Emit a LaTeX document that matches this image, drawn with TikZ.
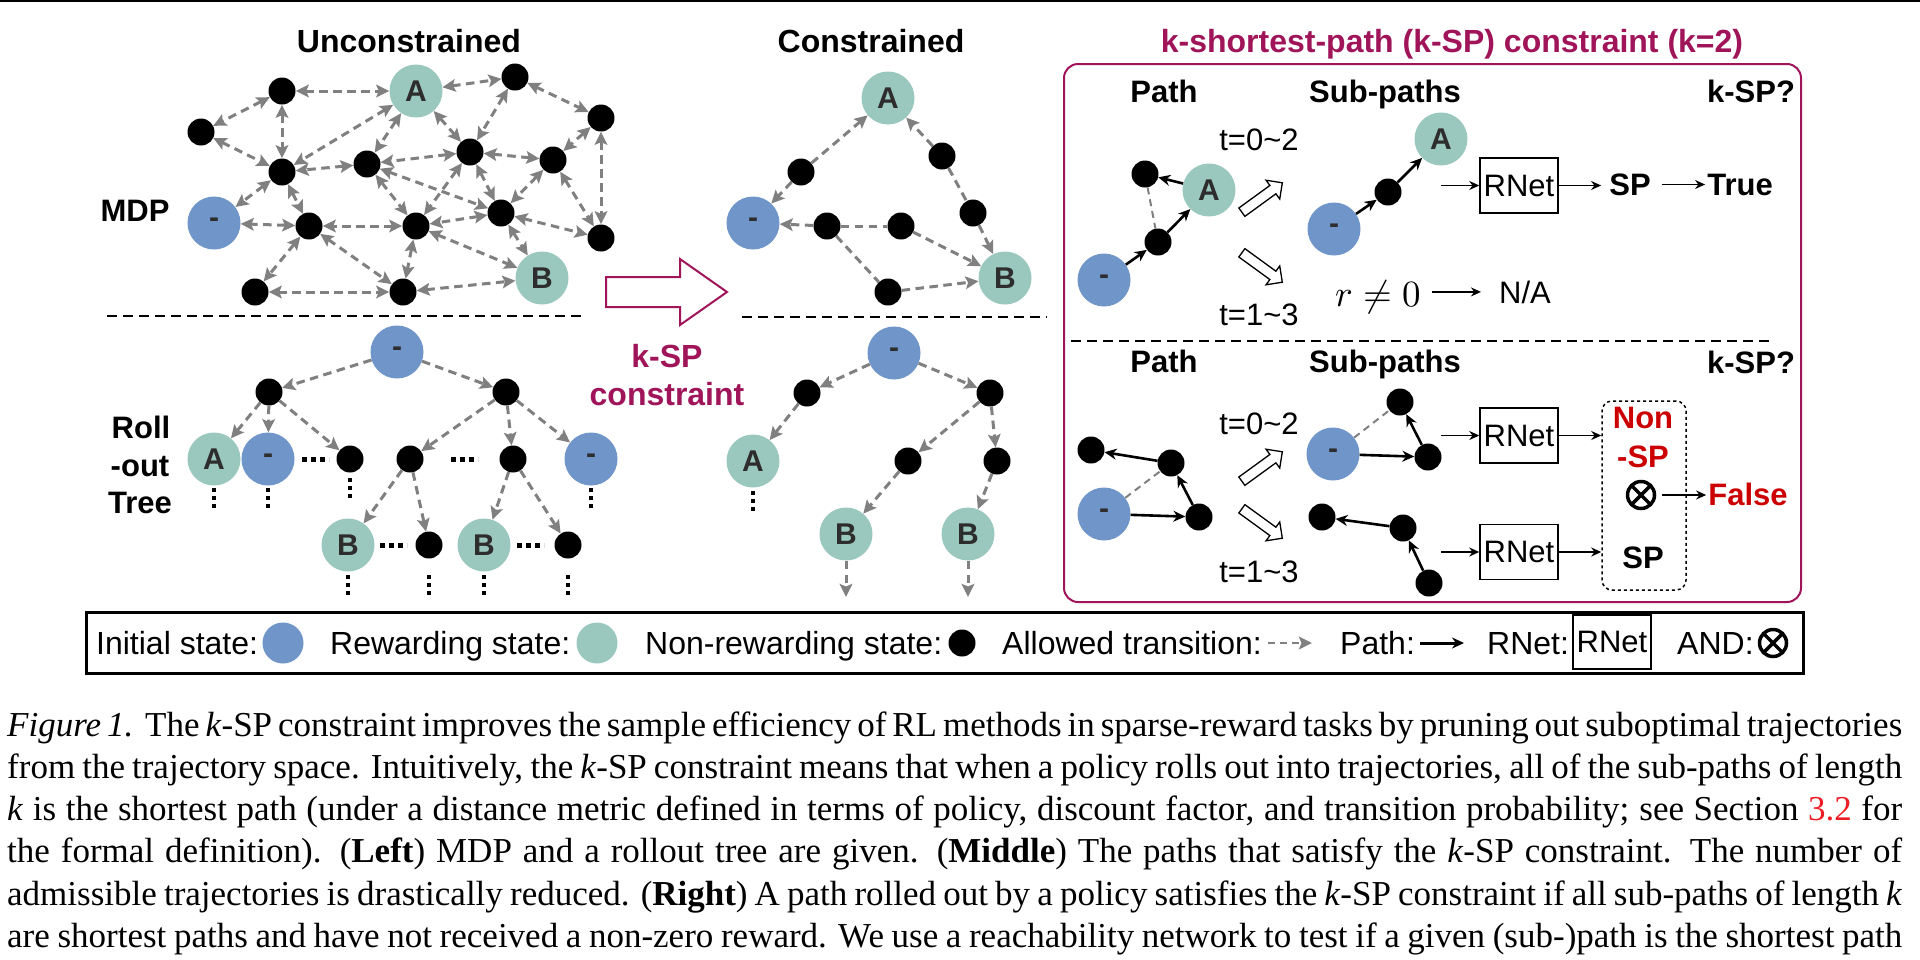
\documentclass[tikz,border=0pt]{standalone}
\usepackage{fontspec}
\setmainfont{Liberation Serif}
\newfontfamily\arialfont{Liberation Sans}
\usetikzlibrary{arrows.meta,shapes.arrows}
\definecolor{iniC}{RGB}{112,149,201}
\definecolor{rewC}{RGB}{155,200,190}
\definecolor{edgeC}{RGB}{128,128,128}
\definecolor{kspC}{RGB}{160,20,90}
\definecolor{redC}{RGB}{204,0,0}
\definecolor{labC}{RGB}{45,45,45}
\definecolor{linkC}{RGB}{237,28,36}
\newcommand{\mysf}[1]{\arialfont\fontsize{#1}{#1}\selectfont}
\newcommand{\capfont}{\fontsize{35}{42}\selectfont}
\tikzset{
  gtip/.tip={Stealth[length=13pt,width=12.5pt,inset=2.5pt]},
  btip/.tip={Stealth[length=12pt,width=11pt]},
  ttip/.tip={Stealth[length=10pt,width=9pt]},
  ini/.style={circle, fill=iniC, minimum size=53pt, inner sep=0pt, font=\mysf{30}\bfseries, text=labC},
  rew/.style={ini, fill=rewC},
  nr/.style={circle, fill=black, minimum size=27pt, inner sep=0pt},
  trans/.style={draw=edgeC, line width=3pt, dash pattern=on 8.5pt off 5.5pt},
  both/.style={trans, gtip-gtip},
  one/.style={trans, -gtip},
  pth/.style={draw=black, line width=2.6pt, -btip},
  thinarr/.style={draw=black, line width=1.6pt, -ttip},
  thindash/.style={draw=edgeC, line width=2pt, dash pattern=on 7pt off 5pt},
  vdots/.style={draw=black, line width=4pt, dash pattern=on 4pt off 4pt},
  hdots/.style={draw=black, line width=5pt, dash pattern=on 5pt off 4pt},
  sepline/.style={draw=black, line width=2.5pt, dash pattern=on 10pt off 6pt},
  ttl/.style={font=\mysf{32}\bfseries, anchor=base, inner sep=0pt},
  txt/.style={font=\mysf{31}, anchor=base, inner sep=2pt},
  btxt/.style={font=\mysf{31}\bfseries, anchor=base, inner sep=2pt},
  lg/.style={font=\mysf{32}, anchor=base west, inner sep=0pt},
  rnet/.style={draw=black, line width=1.5pt, minimum width=78pt, minimum height=55pt, inner sep=0pt, font=\mysf{31}},
  hollow/.style={single arrow, draw=black, line width=1.3pt, fill=white, minimum height=50pt, inner sep=4.5pt, single arrow head extend=6.5pt},
  andop/.style={circle, draw=black, line width=3.5pt, minimum size=27pt, inner sep=0pt,
    path picture={\draw[line width=3.5pt] (path picture bounding box.north west) -- (path picture bounding box.south east) (path picture bounding box.north east) -- (path picture bounding box.south west);}},
  dbox/.style={draw=black, line width=1.5pt, dash pattern=on 3pt off 3pt, rounded corners=10pt, minimum width=84pt, minimum height=189pt, inner sep=0pt},
  capline/.style={anchor=base west, inner sep=0pt, font=\capfont}
}
\begin{document}
\begin{tikzpicture}[x=1pt,y=-1pt]
\useasboundingbox (0,0) rectangle (1920,959);
\fill[white] (0,0) rectangle (1920,959);
\draw[line width=2pt] (0,1) -- (1920,1);

% ---------------- titles
\node[ttl] (tU) at (409,52) {Unconstrained};
\node[ttl] (tC) at (871,52) {Constrained};
\node[ttl, text=kspC] (tK) at (1452,52) {k-shortest-path (k-SP) constraint (k=2)};

\node[btxt] (lMDP) at (135,221) {MDP};
\node[btxt] (lRoll) at (141,438) {Roll};
\node[btxt] (lOut) at (140,476) {-out};
\node[btxt] (lTree) at (140,513) {Tree};

% ---------------- unconstrained MDP
\node[nr] (u1) at (282,91) {};
\node[nr] (u2) at (201,132) {};
\node[rew] (uA) at (416,91) {A};
\node[nr] (u3) at (515,77) {};
\node[nr] (u4) at (601,118) {};
\node[nr] (u5) at (282,172) {};
\node[nr] (u6) at (367,164) {};
\node[nr] (u7) at (470,152) {};
\node[nr] (u8) at (553,160) {};
\node[ini] (uS) at (214,223) {-};
\node[nr] (u9) at (309,226) {};
\node[nr] (u10) at (416,226) {};
\node[nr] (u11) at (501,213) {};
\node[nr] (u12) at (601,238) {};
\node[nr] (u13) at (255,292) {};
\node[nr] (u14) at (403,292) {};
\node[rew] (uB) at (542,278) {B};

\foreach \a/\b in {u1/uA, u1/u2, u1/u5, u2/u5, uA/u5, uA/u6, uA/u7, uA/u3, u3/u7, u3/u4,
  u4/u8, u4/u12, u6/u5, u7/u6, u7/u8, u7/u11, u7/u10, u6/u11, u6/u10, u8/u11, u8/u12,
  u11/u12, u11/uB, u11/u10, u10/uB, u10/u9, u10/u14, u9/uS, u5/uS, u5/u9, u9/u13, u9/u14,
  u13/u14, u14/uB}
  \draw[both] (\a) -- (\b);

\draw[sepline] (107,316) -- (584,316);

% ---------------- roll-out tree
\node[ini] (rS) at (397,352) {-};
\node[nr] (r1) at (269,392) {};
\node[nr] (r2) at (506,392) {};
\node[rew] (rA) at (214,459) {A};
\node[ini] (rS2) at (268,459) {-};
\node[nr] (r3) at (350,459) {};
\node[nr] (r4) at (410,459) {};
\node[nr] (r5) at (513,459) {};
\node[ini] (rS3) at (591,459) {-};
\node[rew] (rB1) at (348,545) {B};
\node[nr] (r6) at (429,545) {};
\node[rew] (rB2) at (484,545) {B};
\node[nr] (r7) at (568,545) {};
\foreach \a/\b in {rS/r1, rS/r2, r1/rA, r1/rS2, r1/r3, r2/r4, r2/r5, r2/rS3, r4/rB1, r4/r6, r5/rB2, r5/r7}
  \draw[one] (\a) -- (\b);
\draw[hdots] (302,459) -- (329,459);
\draw[hdots] (451,459) -- (478,459);
\draw[hdots] (380,545) -- (407,545);
\draw[hdots] (517,545) -- (544,545);
\foreach \x/\ya/\yb in {214/488/508, 268/488/508, 350/478/498, 591/488/508, 348/575/595, 429/575/595, 484/575/595, 568/575/595}
  \draw[vdots] (\x,\ya) -- (\x,\yb);

% ---------------- k-SP arrow
\draw[kspC, line width=2pt, fill=white, line join=miter] (606,277) -- (680,277) -- (680,259) -- (727,292) -- (680,325) -- (680,307) -- (606,307) -- cycle;
\node[ttl, text=kspC] (kA) at (667,367) {k-SP};
\node[ttl, text=kspC] (kB) at (667,405) {constraint};

% ---------------- constrained MDP
\node[rew] (cA) at (888,98) {A};
\node[nr] (c1) at (801,172) {};
\node[ini] (cS) at (753,223) {-};
\node[nr] (c2) at (942,156) {};
\node[nr] (c3) at (973,213) {};
\node[nr] (c4) at (827,226) {};
\node[nr] (c5) at (901,226) {};
\node[nr] (c6) at (888,292) {};
\node[rew] (cB) at (1005,278) {B};
\draw[one] (c1) -- (cA);
\draw[one] (c1) -- (cS);
\draw[one] (c2) -- (cA);
\draw[trans] (c2) -- (c3);
\draw[one] (c3) -- (cB);
\draw[one] (c4) -- (cS);
\draw[trans] (c4) -- (c5);
\draw[one] (c5) -- (cB);
\draw[trans] (c4) -- (c6);
\draw[one] (c6) -- (cB);

\draw[sepline] (742,317) -- (1047,317);

% ---------------- constrained tree
\node[ini] (tS) at (894,353) {-};
\node[nr] (t1) at (807,393) {};
\node[nr] (t2) at (990,393) {};
\node[rew] (tA) at (753,461) {A};
\node[nr] (t3) at (908,461) {};
\node[nr] (t4) at (997,461) {};
\node[rew] (tB1) at (846,534) {B};
\node[rew] (tB2) at (968,534) {B};
\coordinate (tE1) at (846,597);
\coordinate (tE2) at (968,597);
\foreach \a/\b in {tS/t1, tS/t2, t1/tA, t2/t3, t2/t4, t3/tB1, t4/tB2, tB1/tE1, tB2/tE2}
  \draw[one] (\a) -- (\b);
\draw[vdots] (753,491) -- (753,511);

% ---------------- k-SP box
\draw[kspC, line width=2pt, rounded corners=14pt] (1064,64) rectangle (1801,602);
\draw[sepline] (1071,341) -- (1773,341);

% top half
\node[btxt] (hP1) at (1164,102) {Path};
\node[btxt] (hS1) at (1385,102) {Sub-paths};
\node[btxt] (hK1) at (1751,102) {k-SP?};
\node[txt] (t02a) at (1259,150) {t=0\char`\~2};
\node[txt] (t13a) at (1259,325) {t=1\char`\~3};

\node[ini] (pS) at (1104,280) {-};
\node[nr] (p1) at (1158,242) {};
\node[rew] (pA) at (1209,190) {A};
\node[nr] (p2) at (1145,174) {};
\draw[thindash] (p2) -- (p1);
\draw[pth] (pS) -- (p1);
\draw[pth] (p1) -- (pA);
\draw[pth] (pA) -- (p2);
\node[hollow, rotate=36] (ha1) at (1260,199) {};
\node[hollow, rotate=-36] (ha2) at (1260,266) {};

\node[ini] (sS) at (1334,229) {-};
\node[nr] (s1) at (1388,192) {};
\node[rew] (sA) at (1441,139) {A};
\draw[pth] (sS) -- (s1);
\draw[pth] (s1) -- (sA);

\coordinate (in1) at (1441,185.5);
\node[rnet] (rn1) at (1519,185.5) {RNet};
\node[btxt] (sp1) at (1630,195) {SP};
\node[btxt] (tru) at (1740,195) {True};
\draw[thinarr] (in1) -- (rn1);
\draw[thinarr, shorten >=6pt] (rn1.east) -- (rn1.east -| sp1.west);
\draw[thinarr, shorten <=9pt] (sp1.east |- tru.west) -- (tru.west);

\node[anchor=base, inner sep=3pt] (rne) at (1378,306) {\scalebox{3.7}{$r\neq 0$}};
\node[txt] (na) at (1525,303) {N/A};
\draw[thinarr, shorten <=8pt, shorten >=16pt] (rne.east |- na.west) -- (na.west);

% bottom half
\node[btxt] (hP2) at (1164,372) {Path};
\node[btxt] (hS2) at (1385,372) {Sub-paths};
\node[btxt] (hK2) at (1751,373) {k-SP?};
\node[txt] (t02b) at (1259,434) {t=0\char`\~2};
\node[txt] (t13b) at (1259,582) {t=1\char`\~3};

\node[ini] (qS) at (1104,514) {-};
\node[nr] (q1) at (1199,517) {};
\node[nr] (q2) at (1171,463) {};
\node[nr] (q3) at (1091,450) {};
\draw[thindash] (qS) -- (q2);
\draw[pth] (qS) -- (q1);
\draw[pth] (q1) -- (q2);
\draw[pth] (q2) -- (q3);
\node[hollow, rotate=36] (ha3) at (1260,468) {};
\node[hollow, rotate=-36] (ha4) at (1260,522) {};

\node[ini] (wS) at (1333,454) {-};
\node[nr] (w1) at (1428,457) {};
\node[nr] (w2) at (1400,402) {};
\draw[thindash] (wS) -- (w2);
\draw[pth] (wS) -- (w1);
\draw[pth] (w1) -- (w2);

\node[nr] (v1) at (1322,517) {};
\node[nr] (v2) at (1403,528) {};
\node[nr] (v3) at (1429,583) {};
\draw[pth] (v3) -- (v2);
\draw[pth] (v2) -- (v1);

\node[dbox] (dbx) at (1644,495.5) {};
\node[rnet] (rn2) at (1519,435.5) {RNet};
\node[rnet] (rn3) at (1519,552) {RNet};
\coordinate (in2) at (1441,435.5);
\coordinate (in3) at (1441,552);
\draw[thinarr] (in2) -- (rn2);
\draw[thinarr] (in3) -- (rn3);
\draw[thinarr] (rn2.east) -- (rn2.east -| dbx.west);
\draw[thinarr] (rn3.east) -- (rn3.east -| dbx.west);
\node[btxt, text=redC] (non1) at (1643,428) {Non};
\node[btxt, text=redC] (non2) at (1643,467) {-SP};
\node[btxt] (sp2) at (1643,568) {SP};
\node[andop] (and1) at (1641,495) {};
\node[btxt, text=redC] (fls) at (1748,505) {False};
\draw[thinarr, shorten <=6pt] (and1) -- (and1 -| fls.west);

% ---------------- legend
\draw[line width=3pt] (86,612) rectangle (1803,673);
\node[lg] (l1) at (96,654.5) {Initial state:};
\node[ini, minimum size=41pt] (l1c) at (283,643) {};
\node[lg] (l2) at (330,654.5) {Rewarding state:};
\node[rew, minimum size=41pt] (l2c) at (597,643) {};
\node[lg] (l3) at (645,654.5) {Non-rewarding state:};
\node[nr] (l3c) at (962,643) {};
\node[lg] (l4) at (1002,654.5) {Allowed transition:};
\coordinate (l4a) at (1268,643);
\coordinate (l4b) at (1312,643);
\draw[one, line width=2.6pt, dash pattern=on 7pt off 5pt] (l4a) -- (l4b);
\node[lg] (l5) at (1340,654.5) {Path:};
\coordinate (l5a) at (1420,643);
\coordinate (l5b) at (1464,643);
\draw[pth, line width=3pt] (l5a) -- (l5b);
\node[lg] (l6) at (1487,654.5) {RNet:};
\node[rnet, minimum height=54pt] (l6b) at (1612,642) {RNet};
\node[lg] (l7) at (1677,654.5) {AND:};
\node[andop] (l7c) at (1773,643) {};

% ---------------- caption
\node[capline] (cap1) at (7,736) {\makebox[1895pt][s]{\textit{Figure 1.}\ \ The \textit{k}-SP constraint improves the sample efficiency of RL methods in sparse-reward tasks by pruning out suboptimal trajectories}};
\node[capline] (cap2) at (7,778.3) {\makebox[1895pt][s]{from the trajectory space. Intuitively, the \textit{k}-SP constraint means that when a policy rolls out into trajectories, all of the sub-paths of length}};
\node[capline] (cap3) at (7,820.6) {\makebox[1895pt][s]{\textit{k} is the shortest path (under a distance metric defined in terms of policy, discount factor, and transition probability; see Section \textcolor{linkC}{3.2} for}};
\node[capline] (cap4) at (7,862.9) {\makebox[1895pt][s]{the formal definition). (\textbf{Left}) MDP and a rollout tree are given. (\textbf{Middle}) The paths that satisfy the \textit{k}-SP constraint. The number of}};
\node[capline] (cap5) at (7,905.2) {\makebox[1895pt][s]{admissible trajectories is drastically reduced. (\textbf{Right}) A path rolled out by a policy satisfies the \textit{k}-SP constraint if all sub-paths of length \textit{k}}};
\node[capline] (cap6) at (7,947.5) {\makebox[1895pt][s]{are shortest paths and have not received a non-zero reward. We use a reachability network to test if a given (sub-)path is the shortest path}};
\end{tikzpicture}
\end{document}
